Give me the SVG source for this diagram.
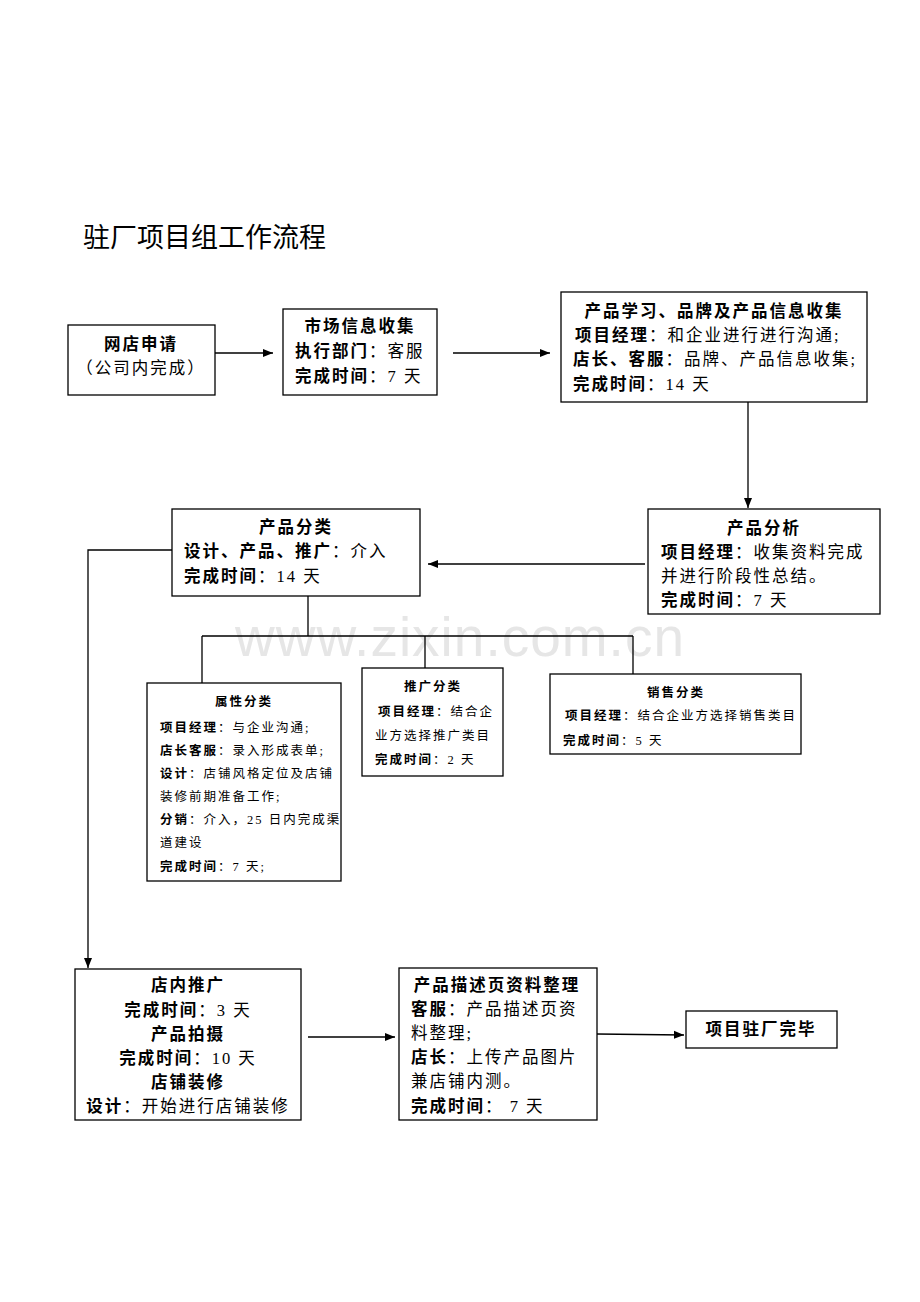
<svg xmlns="http://www.w3.org/2000/svg" width="920" height="1302" viewBox="0 0 920 1302">
<style>
text{font-family:"Liberation Serif","Noto Sans CJK SC",serif;fill:#000}
.t{font-size:16.5px;letter-spacing:2px}
.s{font-size:12.5px;letter-spacing:2px}
.b{font-family:"Liberation Sans","Noto Sans CJK SC",sans-serif;font-weight:bold}
.c{text-anchor:middle}
rect{fill:#fff;stroke:#000;stroke-width:1.3}
.ln{fill:none;stroke:#000;stroke-width:1.3}
</style>
<defs><marker id="a" viewBox="0 0 10 10" refX="10" refY="5" markerWidth="8" markerHeight="8" orient="auto"><path d="M0,1 L10,5 L0,9 z" fill="#000"/></marker></defs>
<rect width="920" height="1302" style="fill:#fff;stroke:none"/>
<text x="83" y="247" style="font-family:'Noto Sans CJK SC',sans-serif;font-size:27px">驻厂项目组工作流程</text>
<text x="460" y="656" class="c" style="font-family:'Liberation Sans',sans-serif;font-size:55px;letter-spacing:1px;fill:#e6e6e6">www.zixin.com.cn</text>
<g id="connectors">
<path class="ln" d="M215,353 H273" marker-end="url(#a)"/>
<path class="ln" d="M453,353 H550" marker-end="url(#a)"/>
<path class="ln" d="M748,402 V508" marker-end="url(#a)"/>
<path class="ln" d="M645,564 H428" marker-end="url(#a)"/>
<path class="ln" d="M172,550 H88 V968" marker-end="url(#a)"/>
<path class="ln" d="M308,596 V636 M202,636 H633 M202,636 V683 M425,636 V668 M633,636 V674"/>
<path class="ln" d="M308,1037 H395" marker-end="url(#a)"/>
<path class="ln" d="M597,1034 L684,1035" marker-end="url(#a)"/>
</g>
<g id="n1"><rect x="68" y="325" width="147" height="70"/>
<text class="t b c" x="141" y="350">网店申请</text><text class="t c" x="141" y="374">（公司内完成）</text></g>
<g id="n2"><rect x="283" y="309" width="154" height="86"/>
<text class="t b c" x="360" y="332">市场信息收集</text>
<text class="t" x="295" y="357"><tspan class="b">执行部门</tspan>：客服</text>
<text class="t" x="295" y="382"><tspan class="b">完成时间</tspan>：7 天</text></g>
<g id="n3"><rect x="561" y="292" width="306" height="110"/>
<text class="t b c" x="714" y="317">产品学习、品牌及产品信息收集</text>
<text class="t" x="575" y="341"><tspan class="b">项目经理</tspan>：和企业进行进行沟通;</text>
<text class="t" x="573" y="365"><tspan class="b">店长、客服</tspan>：品牌、产品信息收集;</text>
<text class="t" x="573" y="390"><tspan class="b">完成时间</tspan>：14 天</text></g>
<g id="n4"><rect x="648" y="509" width="232" height="105"/>
<text class="t b c" x="764" y="534">产品分析</text>
<text class="t" x="661" y="558"><tspan class="b">项目经理</tspan>：收集资料完成</text>
<text class="t" x="661" y="582">并进行阶段性总结。</text>
<text class="t" x="661" y="606"><tspan class="b">完成时间</tspan>：7 天</text></g>
<g id="n5"><rect x="172" y="509" width="248" height="87"/>
<text class="t b c" x="296" y="533">产品分类</text>
<text class="t" x="184" y="557"><tspan class="b">设计、产品、推广</tspan>：介入</text>
<text class="t" x="184" y="582"><tspan class="b">完成时间</tspan>：14 天</text></g>
<g id="n6"><rect x="147" y="683" width="194" height="198"/>
<text class="s b c" x="244" y="706">属性分类</text>
<text class="s" x="160" y="732"><tspan class="b">项目经理</tspan>：与企业沟通;</text>
<text class="s" x="160" y="755"><tspan class="b">店长客服</tspan>：录入形成表单;</text>
<text class="s" x="160" y="778"><tspan class="b">设计</tspan>：店铺风格定位及店铺</text>
<text class="s" x="160" y="801">装修前期准备工作;</text>
<text class="s" x="160" y="824"><tspan class="b">分销</tspan>：介入，25 日内完成渠</text>
<text class="s" x="160" y="847">道建设</text>
<text class="s" x="160" y="871"><tspan class="b">完成时间</tspan>：7 天;</text></g>
<g id="n7"><rect x="362" y="668" width="141" height="108"/>
<text class="s b c" x="433" y="691">推广分类</text>
<text class="s" x="378" y="716"><tspan class="b">项目经理</tspan>：结合企</text>
<text class="s" x="375" y="740">业方选择推广类目</text>
<text class="s" x="375" y="764"><tspan class="b">完成时间</tspan>：2 天</text></g>
<g id="n8"><rect x="550" y="674" width="251" height="80"/>
<text class="s b c" x="676" y="697">销售分类</text>
<text class="s" x="565" y="720"><tspan class="b">项目经理</tspan>：结合企业方选择销售类目</text>
<text class="s" x="563" y="745"><tspan class="b">完成时间</tspan>：5 天</text></g>
<g id="n9"><rect x="75" y="969" width="226" height="151"/>
<text class="t b c" x="188" y="991">店内推广</text>
<text class="t c" x="188" y="1016"><tspan class="b">完成时间</tspan>：3 天</text>
<text class="t b c" x="188" y="1040">产品拍摄</text>
<text class="t c" x="188" y="1064"><tspan class="b">完成时间</tspan>：10 天</text>
<text class="t b c" x="188" y="1088">店铺装修</text>
<text class="t c" x="188" y="1112"><tspan class="b">设计</tspan>：开始进行店铺装修</text></g>
<g id="n10"><rect x="399" y="968" width="198" height="152"/>
<text class="t b c" x="497" y="991">产品描述页资料整理</text>
<text class="t" x="411" y="1015"><tspan class="b">客服</tspan>：产品描述页资</text>
<text class="t" x="411" y="1039">料整理;</text>
<text class="t" x="411" y="1063"><tspan class="b">店长</tspan>：上传产品图片</text>
<text class="t" x="411" y="1087">兼店铺内测。</text>
<text class="t" x="411" y="1112"><tspan class="b">完成时间</tspan>：  7 天</text></g>
<g id="n11"><rect x="686" y="1011" width="151" height="37"/>
<text class="t b c" x="761" y="1035">项目驻厂完毕</text></g>
</svg>
